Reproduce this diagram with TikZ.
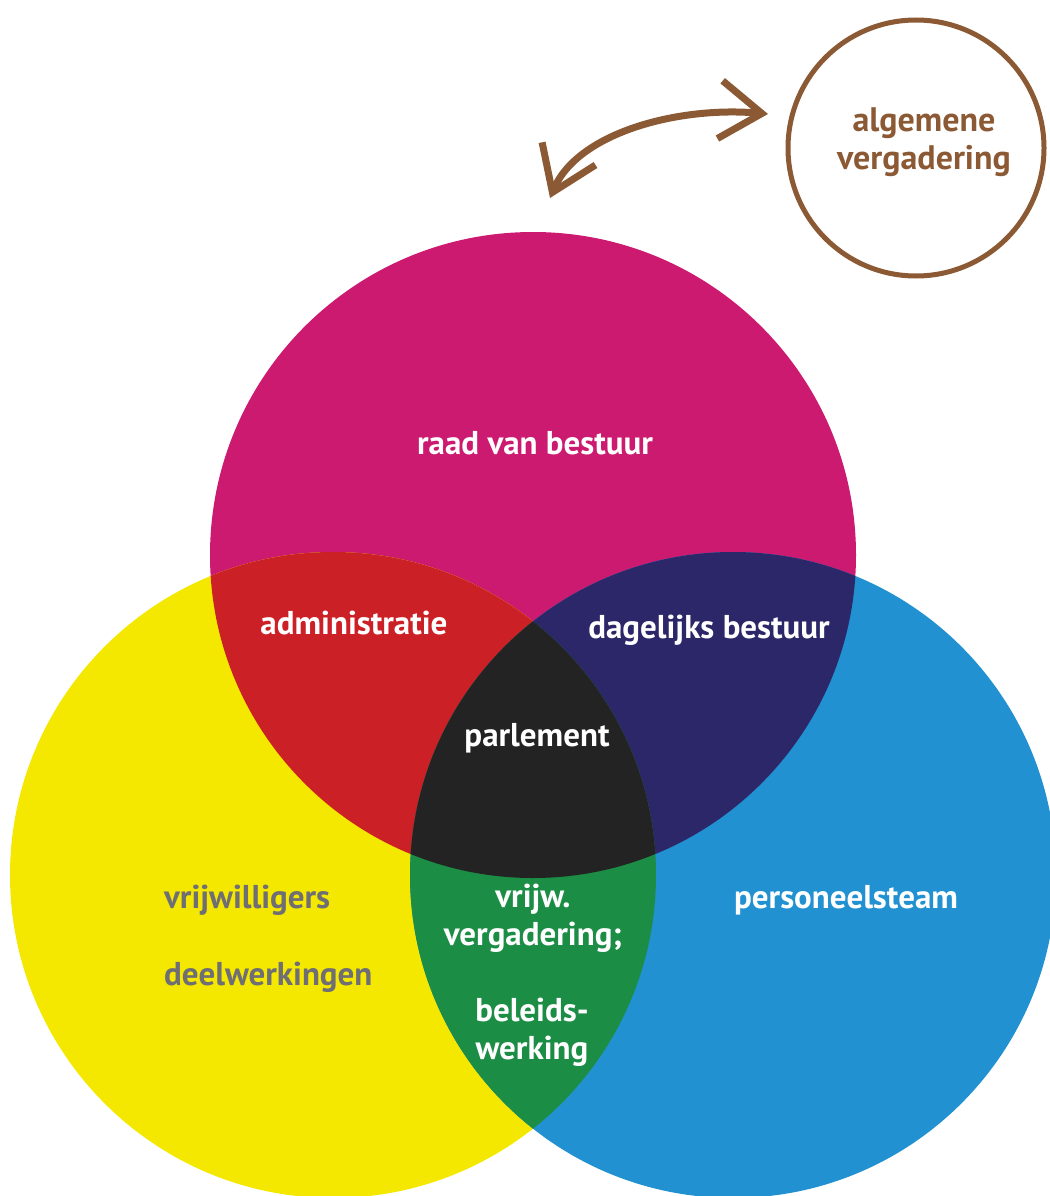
\documentclass[tikz,border=0pt]{standalone}
\usepackage{fontspec}
\setmainfont{PT Sans}
\usetikzlibrary{arrows.meta}
\definecolor{cmag}{HTML}{CB1A70}
\definecolor{cyel}{HTML}{F4E800}
\definecolor{cblue}{HTML}{2191D1}
\definecolor{cred}{HTML}{CC2027}
\definecolor{cnavy}{HTML}{2B2768}
\definecolor{cgreen}{HTML}{1C8D45}
\definecolor{cblack}{HTML}{222322}
\definecolor{cbrown}{HTML}{8B5A34}
\definecolor{cgray}{HTML}{6E6E74}
\begin{document}
\begin{tikzpicture}[x=1pt,y=-1pt,
  lbl/.style={font=\bfseries\fontsize{33}{38}\selectfont, text=white, inner sep=0pt, align=center},
  glbl/.style={lbl, text=cgray},
  blbl/.style={lbl, text=cbrown, font=\bfseries\fontsize{34}{38}\selectfont},
  barbs/.style={arrows={Straight Barb[length=42pt,width=58pt]-Straight Barb[length=42pt,width=58pt]}}]
\useasboundingbox (0,0) rectangle (1049,1196);
\coordinate (cm) at (533,555);
\coordinate (cy) at (333,875);
\coordinate (cb) at (733,875);
% base circles
\fill[cmag] (cm) circle (323pt);
\fill[cyel] (cy) circle (323pt);
\fill[cblue] (cb) circle (323pt);
% pairwise intersections
\begin{scope}
  \clip (cm) circle (323pt);
  \fill[cred] (cy) circle (323pt);
  \fill[cnavy] (cb) circle (323pt);
\end{scope}
\begin{scope}
  \clip (cy) circle (323pt);
  \fill[cgreen] (cb) circle (323pt);
\end{scope}
\begin{scope}
  \clip (cm) circle (323pt);
  \clip (cy) circle (323pt);
  \fill[cblack] (cb) circle (323pt);
\end{scope}
% labels
\node[lbl] (rvb) at (535,443) {raad van bestuur};
\node[lbl] (adm) at (354,623) {administratie};
\node[lbl] (db) at (709,630) {dagelijks bestuur};
\node[lbl] (parl) at (537,738) {parlement};
\node[glbl, anchor=west] (vw) at (164,900) {vrijwilligers};
\node[glbl, anchor=west] (dw) at (164,977) {deelwerkingen};
\node[lbl] (pt) at (846,900) {personeelsteam};
\node[lbl] (vv) at (533,918) {vrijw.\\vergadering;};
\node[lbl] (bw) at (532,1032) {beleids-\\werking};
% algemene vergadering
\node[draw=cbrown, line width=5pt, circle, minimum size=256pt, inner sep=0pt] (av) at (916,148) {};
\node[blbl] (avt) at (924,142) {algemene\\vergadering};
% arrow
\coordinate (a1) at (550,198);
\coordinate (a2) at (768,114);
\draw[cbrown, line width=7pt, line cap=round, barbs] (a1) .. controls (578,132) and (680,106) .. (a2);
\end{tikzpicture}
\end{document}
